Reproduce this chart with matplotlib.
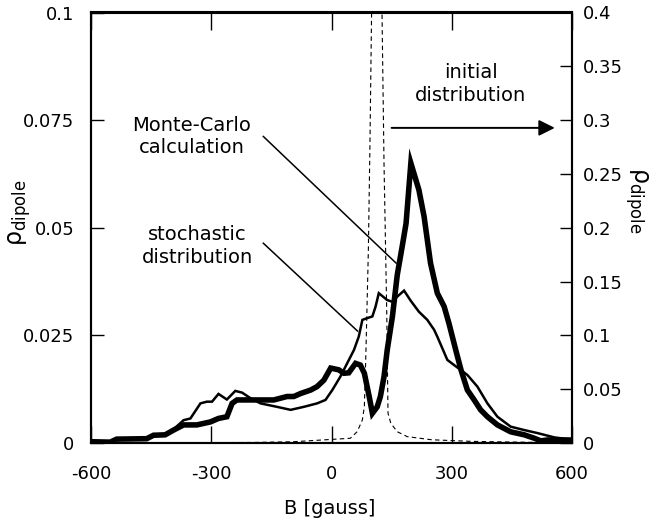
import matplotlib
matplotlib.use("Agg")
import matplotlib.pyplot as plt

plt.rcParams['font.family'] = ['DejaVu Sans']
plt.rcParams['axes.unicode_minus'] = False

# Monte-Carlo calculation (thick line, left axis)
mc_x = [-600, -552, -536, -461, -444, -415, -394, -369, -336, -302, -282, -261, -248,
        -236, -152, -144, -111, -94, -77, -52, -36, -19, -2, 18, 31, 43, 60, 72, 82,
        94, 102, 114, 122, 131, 139, 152, 164, 177, 186, 198, 218, 231, 247, 264, 281,
        293, 310, 323, 339, 356, 372, 389, 414, 447, 481, 506, 522, 539, 581, 600]
mc_y = [0.0003, 0.0002, 0.0009, 0.0010, 0.0018, 0.0019, 0.0030, 0.0042, 0.0042, 0.0049,
        0.0057, 0.0061, 0.0092, 0.0100, 0.0100, 0.0100, 0.0108, 0.0108, 0.0115, 0.0123,
        0.0131, 0.0146, 0.0174, 0.0170, 0.0162, 0.0163, 0.0185, 0.0181, 0.0162, 0.0108,
        0.0069, 0.0084, 0.0108, 0.0154, 0.0216, 0.0294, 0.0390, 0.0460, 0.0510, 0.0650,
        0.0588, 0.0526, 0.0418, 0.0348, 0.0317, 0.0278, 0.0216, 0.0170, 0.0123, 0.0100,
        0.0077, 0.0061, 0.0042, 0.0026, 0.0019, 0.0011, 0.0005, 0.0007, 0.0007, 0.0007]

# stochastic distribution (thin line, left axis)
st_x = [-600, -552, -536, -461, -444, -415, -394, -369, -352, -327, -311, -298, -282,
        -261, -240, -223, -202, -177, -136, -102, -69, -36, -15, 2, 22, 39, 56, 68, 77,
        89, 102, 110, 118, 139, 152, 164, 181, 198, 218, 239, 256, 264, 289, 306, 322,
        339, 364, 389, 414, 447, 481, 514, 556, 589, 600]
st_y = [0.0003, 0.0002, 0.0009, 0.0010, 0.0018, 0.0019, 0.0032, 0.0053, 0.0057, 0.0092,
        0.0096, 0.0096, 0.0114, 0.0101, 0.0121, 0.0117, 0.0104, 0.0092, 0.0084, 0.0077,
        0.0084, 0.0092, 0.0100, 0.0123, 0.0154, 0.0185, 0.0216, 0.0247, 0.0286, 0.0290,
        0.0294, 0.0317, 0.0348, 0.0332, 0.0328, 0.0340, 0.0354, 0.0330, 0.0305, 0.0286,
        0.0263, 0.0247, 0.0193, 0.0181, 0.0170, 0.0158, 0.0131, 0.0092, 0.0061, 0.0038,
        0.0030, 0.0023, 0.0013, 0.0009, 0.0008]

# initial distribution (dashed, right axis) - peak runs off the top
init_x = [-600, -194, -94, 47, 64, 77, 82, 86, 90, 92, 96, 100, 113, 126, 131, 135, 138,
          140, 141, 148, 164, 189, 250, 350, 600]
init_y = [0.0, 0.0005, 0.0012, 0.0044, 0.0105, 0.0214, 0.0337, 0.0865, 0.148, 0.18, 0.28,
          0.40, 1.2, 0.40, 0.26, 0.179, 0.117, 0.0555, 0.0276, 0.0183, 0.0105, 0.0059,
          0.003, 0.0015, 0.0]

xticks = [-600, -300, 0, 300, 600]
left_ticks = [0, 0.025, 0.05, 0.075, 0.1]
left_labels = ['0', '0.025', '0.05', '0.075', '0.1']
right_ticks = [0, 0.05, 0.1, 0.15, 0.2, 0.25, 0.3, 0.35, 0.4]
right_labels = ['0', '0.05', '0.1', '0.15', '0.2', '0.25', '0.3', '0.35', '0.4']

fig = plt.figure(figsize=(6.49, 5.2), dpi=100)
ax = fig.add_axes([91/649, 1 - 443/520, 481/649, 430.5/520])
ax2 = ax.twinx()

ax2.plot(init_x, init_y, color='k', lw=0.8, linestyle=(0, (4, 3)))
ax.plot(st_x, st_y, color='k', lw=1.8, solid_joinstyle='miter')
ax.plot(mc_x, mc_y, color='k', lw=4.0, solid_joinstyle='miter')

ax.set_xlim(-600, 600)
ax.set_ylim(0, 0.1)
ax2.set_ylim(0, 0.4)

ax.set_xticks(xticks)
ax.set_xticklabels([str(v) for v in xticks])
ax.set_yticks(left_ticks)
ax.set_yticklabels(left_labels)
ax2.set_yticks(right_ticks)
ax2.set_yticklabels(right_labels)

ax.tick_params(axis='x', direction='in', length=12, width=1, labelsize=13, pad=16,
               top=True)
ax.tick_params(axis='y', direction='in', length=9.5, width=1, labelsize=13, pad=12)
ax2.tick_params(axis='y', direction='in', length=9, width=1, labelsize=13, pad=8)

for a in (ax, ax2):
    for s in a.spines.values():
        s.set_linewidth(1.5)

# annotations
ax.text(-348, 0.0712, 'Monte-Carlo\ncalculation', ha='center', va='center',
        fontsize=14, linespacing=1.25)
ax.text(-335, 0.0458, 'stochastic\ndistribution', ha='center', va='center',
        fontsize=14, linespacing=1.25)
ax.text(347, 0.0834, 'initial\ndistribution', ha='center', va='center',
        fontsize=14, linespacing=1.25)
ax.plot([-170, 161], [0.0712, 0.0418], color='k', lw=1.1)
ax.plot([-170, 65], [0.0464, 0.0260], color='k', lw=1.1)
ax.annotate('', xy=(564, 0.0732), xytext=(143, 0.0732),
            arrowprops=dict(arrowstyle='-|>', color='k', lw=1.4, mutation_scale=24))

fig.text(0.508, 0.023, 'B [gauss]', ha='center', va='center', fontsize=14)
fig.text(0.031, 0.592, r'$\mathrm{\rho_{dipole}}$', ha='center', va='center',
         rotation=90, fontsize=17)
fig.text(0.981, 0.615, r'$\mathrm{\rho_{dipole}}$', ha='center', va='center',
         rotation=270, fontsize=17)

fig.savefig('out.png', dpi=100)
